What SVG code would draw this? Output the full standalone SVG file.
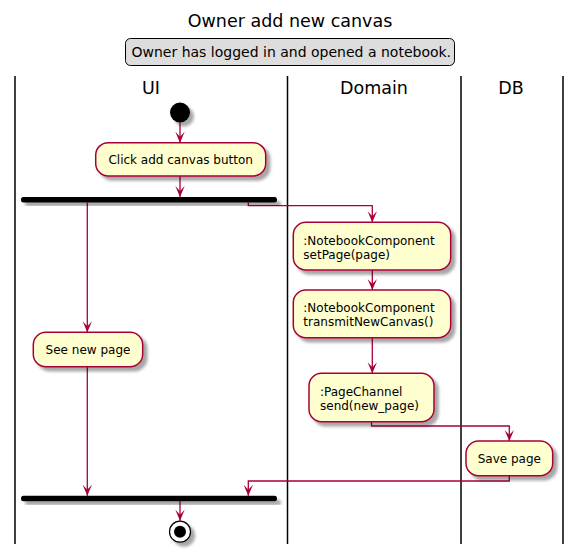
<svg xmlns="http://www.w3.org/2000/svg" width="581" height="559" viewBox="0 0 581 559">
<style>
text{font-family:"DejaVu Sans","Liberation Sans",sans-serif;fill:#000}
.act{fill:#FEFECE;stroke:#A80036;stroke-width:1.5;filter:url(#sh)}
.atxt{font-size:12px}
.lane{stroke:#000;stroke-width:1.5}
.hdr{font-size:17.5px;text-anchor:middle}
.con{fill:none;stroke:#A80036;stroke-width:1.3}
.bar{fill:#000;filter:url(#sh)}
</style>
<defs>
<filter id="sh" x="-20%" y="-20%" width="150%" height="180%">
<feGaussianBlur in="SourceAlpha" stdDeviation="1.7"/>
<feOffset dx="4" dy="4" result="b"/>
<feComponentTransfer><feFuncA type="linear" slope="0.35"/></feComponentTransfer>
<feMerge><feMergeNode/><feMergeNode in="SourceGraphic"/></feMerge>
</filter>
<marker id="ah" viewBox="0 0 11 10" refX="11" refY="5" markerWidth="11" markerHeight="10" markerUnits="userSpaceOnUse" orient="auto">
<path d="M0,0.3 L11,5 L0,9.7 L5,5 Z" fill="#A80036"/>
</marker>
</defs>
<rect width="581" height="559" fill="#fff"/>
<text x="290" y="26.7" font-size="17.5" text-anchor="middle">Owner add new canvas</text>
<g id="note">
<rect x="125.5" y="38.5" width="329" height="27" rx="5" fill="#DDDDDD" stroke="#000" stroke-width="1"/>
<text x="131.5" y="57" font-size="14">Owner has logged in and opened a notebook.</text>
</g>
<g id="lanes">
<line class="lane" x1="15" y1="76" x2="15" y2="544"/>
<line class="lane" x1="287.5" y1="76" x2="287.5" y2="544"/>
<line class="lane" x1="461" y1="76" x2="461" y2="544"/>
<line class="lane" x1="563" y1="76" x2="563" y2="544"/>
<text class="hdr" x="151" y="94">UI</text>
<text class="hdr" x="374" y="94">Domain</text>
<text class="hdr" x="511" y="94">DB</text>
</g>
<g id="connectors">
<path class="con" d="M180,122.5 V142.7" marker-end="url(#ah)"/>
<path class="con" d="M180,176 V197" marker-end="url(#ah)"/>
<path class="con" d="M87.3,202.5 V332.3" marker-end="url(#ah)"/>
<path class="con" d="M248.3,202.5 V205.7 H372.3 V222.3" marker-end="url(#ah)"/>
<path class="con" d="M372.3,270 V290" marker-end="url(#ah)"/>
<path class="con" d="M372.3,337.7 V373.3" marker-end="url(#ah)"/>
<path class="con" d="M371.5,421.7 V426 H509.3 V441" marker-end="url(#ah)"/>
<path class="con" d="M509.3,475.7 V481 H248.3 V495.7" marker-end="url(#ah)"/>
<path class="con" d="M87.3,366.7 V495.7" marker-end="url(#ah)"/>
<path class="con" d="M180,501.3 V520.7" marker-end="url(#ah)"/>
</g>
<g id="start"><circle cx="180" cy="112.5" r="10" fill="#000" filter="url(#sh)"/></g>
<g id="click">
<rect class="act" x="95.7" y="142.7" width="170" height="33.3" rx="12.5"/>
<text class="atxt" x="180.7" y="163.6" text-anchor="middle">Click add canvas button</text>
</g>
<g id="fork"><rect class="bar" x="21" y="197" width="256" height="5.5" rx="2.5"/></g>
<g id="setpage">
<rect class="act" x="293.3" y="222.3" width="157.4" height="47.7" rx="12.5"/>
<text class="atxt" x="303.3" y="244.5">:NotebookComponent</text>
<text class="atxt" x="303.3" y="258.5">setPage(page)</text>
</g>
<g id="transmit">
<rect class="act" x="293.3" y="290" width="157.4" height="47.7" rx="12.5"/>
<text class="atxt" x="303.3" y="312.2">:NotebookComponent</text>
<text class="atxt" x="303.3" y="326.2">transmitNewCanvas()</text>
</g>
<g id="send">
<rect class="act" x="309" y="373.3" width="125" height="48.4" rx="12.5"/>
<text class="atxt" x="320" y="395.5">:PageChannel</text>
<text class="atxt" x="320" y="409.5">send(new_page)</text>
</g>
<g id="save">
<rect class="act" x="466" y="441" width="86.7" height="34.7" rx="12.5"/>
<text class="atxt" x="509.3" y="462.6" text-anchor="middle">Save page</text>
</g>
<g id="seepage">
<rect class="act" x="33.3" y="332.3" width="109.4" height="34.4" rx="12.5"/>
<text class="atxt" x="88" y="353.7" text-anchor="middle">See new page</text>
</g>
<g id="join"><rect class="bar" x="21" y="495.7" width="256" height="5.5" rx="2.5"/></g>
<g id="end">
<circle cx="180" cy="531.7" r="10.5" fill="#fff" stroke="#000" stroke-width="1.2" filter="url(#sh)"/>
<circle cx="180" cy="531.7" r="6" fill="#000"/>
</g>
</svg>
